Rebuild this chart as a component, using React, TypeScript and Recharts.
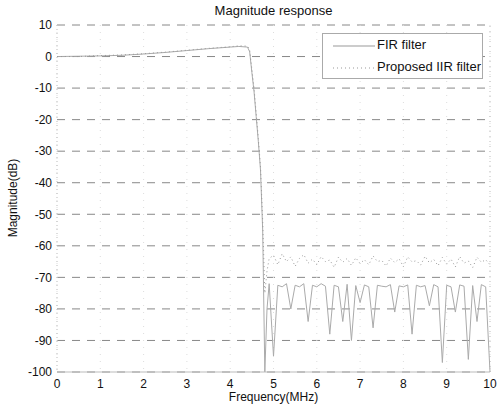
import React from 'react';
import {
  LineChart,
  Line,
  XAxis,
  YAxis,
  CartesianGrid,
  ReferenceLine,
} from 'recharts';

// frequency points (MHz)
const freq = [
  0, 0.5, 1, 1.5, 2, 2.5, 3, 3.5, 4, 4.2, 4.4, 4.45, 4.5, 4.55, 4.6, 4.65, 4.7, 4.75, 4.8, 4.85,
  4.9, 5.0, 5.1, 5.2, 5.3, 5.4, 5.5, 5.6, 5.7, 5.8, 5.9, 6.0, 6.1, 6.2, 6.3, 6.4, 6.5, 6.6, 6.7, 6.8,
  6.9, 7.0, 7.1, 7.2, 7.3, 7.4, 7.5, 7.6, 7.7, 7.8, 7.9, 8.0, 8.1, 8.2, 8.3, 8.4, 8.5, 8.6, 8.7, 8.8,
  8.9, 9.0, 9.1, 9.2, 9.3, 9.4, 9.5, 9.6, 9.7, 9.8, 9.9, 10.0,
];

// FIR filter magnitude (dB)
const firDb = [
  0, 0.1, 0.2, 0.4, 0.8, 1.3, 1.9, 2.5, 3.0, 3.2, 3.0, 1.5, -5, -11, -19, -27, -36, -55, -100, -80,
  -72, -95, -72.5, -73, -72, -80, -72.5, -73, -72, -84, -72.5, -73, -72, -72.8, -88, -72.5, -73, -84, -72.2, -90,
  -72.6, -78, -72.4, -73, -86, -72.5, -72.8, -73, -72.3, -81, -72.7, -73, -72.4, -88, -72.5, -73, -72.6, -79, -72.3, -73,
  -97, -72.5, -73, -81, -72.4, -72.8, -96, -72.6, -84, -72.3, -73, -100,
];

// Proposed IIR filter magnitude (dB)
const iirDb = [
  0, 0, 0.3, 0.5, 0.9, 1.4, 2.0, 2.6, 3.1, 3.4, 3.3, 2, -4, -10, -18, -26, -35, -52, -75, -68,
  -64, -63, -66, -62.5, -65, -63.5, -66.5, -64, -62.8, -65.5, -64.2, -66, -63.4, -65, -64.5, -66.8, -63.6, -65.2, -64, -66.2,
  -63.8, -65.6, -64.4, -66, -63.2, -65, -64.6, -66.4, -63.9, -65.3, -64.1, -66.6, -63.5, -65.1, -64.7, -66.1, -63.3, -65.4, -64.3, -66.3,
  -63.7, -65.8, -64.2, -66.7, -63.4, -65.5, -64.8, -66.9, -63.6, -65.2, -64.4, -66,
];

const xTicks = [0, 1, 2, 3, 4, 5, 6, 7, 8, 9, 10];
const yTicks = [10, 0, -10, -20, -30, -40, -50, -60, -70, -80, -90, -100];

const data = freq.map((f, i) => ({ f, fir: firDb[i], iir: iirDb[i] }));

const font = '"Liberation Sans", Arial, sans-serif';

const textStyle: React.CSSProperties = {
  position: 'absolute',
  fontFamily: font,
  color: '#111',
  whiteSpace: 'nowrap',
};

// legend box drawn on top of the plot, like MATLAB's
const LegendBox = () => (
  <div
    style={{
      position: 'absolute',
      left: 322,
      top: 33,
      width: 161,
      height: 46,
      border: '1px solid #aaa',
      background: '#fff',
      boxSizing: 'border-box',
    }}
  >
    <svg width={46} height={46} style={{ position: 'absolute', left: 8, top: 0 }}>
      <line x1={2} y1={12} x2={44} y2={12} stroke="#999" strokeWidth={1} />
      <line x1={2} y1={34} x2={44} y2={34} stroke="#999" strokeWidth={1} strokeDasharray="1 3" />
    </svg>
    <div style={{ ...textStyle, fontSize: 13, left: 54, top: 3 }}>FIR filter</div>
    <div style={{ ...textStyle, fontSize: 13, left: 54, top: 25 }}>Proposed IIR filter</div>
  </div>
);

export default function App() {
  return (
    <div style={{ position: 'absolute', left: 0, top: 0, width: 498, height: 412, background: '#fff' }}>
      <LineChart
        width={498}
        height={412}
        data={data}
        margin={{ top: 25, right: 8, left: 0, bottom: 0 }}
      >
        <CartesianGrid horizontal={true} vertical={false} stroke="#888" strokeDasharray="8 7" />
        <CartesianGrid horizontal={false} vertical={true} stroke="#ddd" strokeDasharray="1 6" />
        <XAxis
          dataKey="f"
          type="number"
          domain={[0, 10]}
          ticks={xTicks}
          height={40}
          tickLine={false}
          tickSize={3}
          tickMargin={4}
          stroke="#bbb"
          tick={{ fill: '#111', fontSize: 12, fontFamily: font }}
        />
        <YAxis
          type="number"
          domain={[-100, 10]}
          ticks={yTicks}
          width={57}
          tickLine={false}
          tickSize={3}
          tickMargin={2}
          stroke="#bbb"
          strokeDasharray="1 3"
          tick={{ fill: '#111', fontSize: 12, fontFamily: font }}
          allowDataOverflow
        />
        <ReferenceLine x={10} stroke="#bbb" strokeDasharray="1 4" />
        <Line
          type="linear"
          dataKey="fir"
          name="FIR filter"
          stroke="#aaa"
          strokeWidth={1}
          dot={false}
          isAnimationActive={false}
        />
        <Line
          type="linear"
          dataKey="iir"
          name="Proposed IIR filter"
          stroke="#999"
          strokeWidth={1}
          strokeDasharray="1 3"
          dot={false}
          isAnimationActive={false}
        />
      </LineChart>
      <LegendBox />
      <div style={{ ...textStyle, left: 57, width: 433, top: 3, textAlign: 'center', fontSize: 13 }}>
        Magnitude response
      </div>
      <div style={{ ...textStyle, left: 57, width: 433, top: 390, textAlign: 'center', fontSize: 12 }}>
        Frequency(MHz)
      </div>
      <div
        style={{
          ...textStyle,
          left: 13,
          top: 198,
          fontSize: 12,
          transform: 'translate(-50%, -50%) rotate(-90deg)',
        }}
      >
        Magnitude(dB)
      </div>
    </div>
  );
}
